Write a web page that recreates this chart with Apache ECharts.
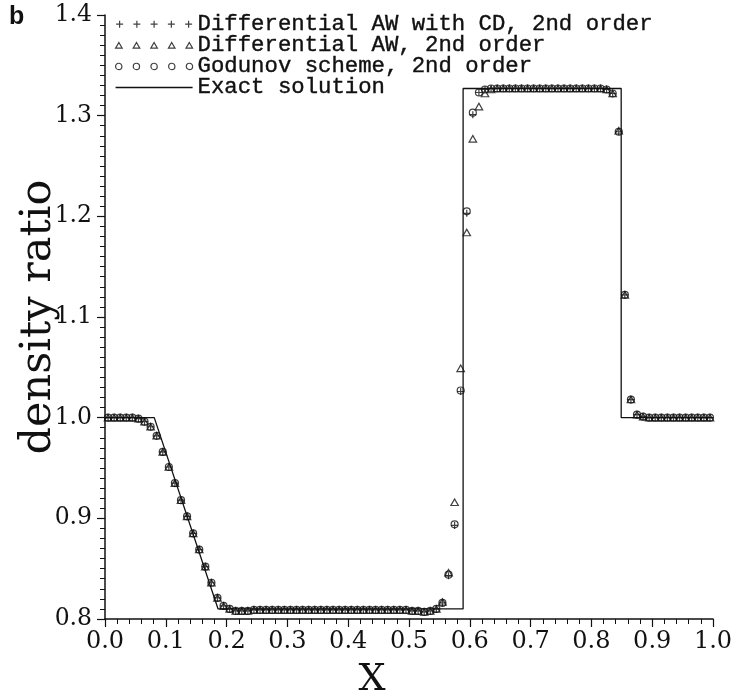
<!DOCTYPE html>
<html>
<head>
<meta charset="utf-8">
<script src="https://cdn.jsdelivr.net/npm/echarts@6/dist/echarts.min.js"></script>
<style>
  html, body { margin: 0; padding: 0; background: #fff; }
  #chart { width: 732px; height: 691px; }
</style>
</head>
<body>
<div id="chart"></div>
<script>
// Cell-centre positions of the numerical solutions
const cellX = [
  0.005, 0.015, 0.025, 0.035, 0.045, 0.055, 0.065, 0.075, 0.085, 0.095,
  0.105, 0.115, 0.125, 0.135, 0.145, 0.155, 0.165, 0.175, 0.185, 0.195,
  0.205, 0.215, 0.225, 0.235, 0.245, 0.255, 0.265, 0.275, 0.285, 0.295,
  0.305, 0.315, 0.325, 0.335, 0.345, 0.355, 0.365, 0.375, 0.385, 0.395,
  0.405, 0.415, 0.425, 0.435, 0.445, 0.455, 0.465, 0.475, 0.485, 0.495,
  0.505, 0.515, 0.525, 0.535, 0.545, 0.555, 0.565, 0.575, 0.585, 0.595,
  0.605, 0.615, 0.625, 0.635, 0.645, 0.655, 0.665, 0.675, 0.685, 0.695,
  0.705, 0.715, 0.725, 0.735, 0.745, 0.755, 0.765, 0.775, 0.785, 0.795,
  0.805, 0.815, 0.825, 0.835, 0.845, 0.855, 0.865, 0.875, 0.885, 0.895,
  0.905, 0.915, 0.925, 0.935, 0.945, 0.955, 0.965, 0.975, 0.985, 0.995
];

// Differential AW with CD, 2nd order
const awCdDensity = [
  1.000, 1.000, 1.000, 1.000, 1.000, 0.999, 0.996, 0.991, 0.982, 0.966,
  0.951, 0.935, 0.918, 0.902, 0.885, 0.869, 0.852, 0.836, 0.821, 0.813,
  0.810, 0.808, 0.808, 0.808, 0.809, 0.809, 0.809, 0.809, 0.809, 0.809,
  0.809, 0.809, 0.809, 0.809, 0.809, 0.809, 0.809, 0.809, 0.809, 0.809,
  0.809, 0.809, 0.809, 0.809, 0.809, 0.809, 0.809, 0.809, 0.809, 0.809,
  0.808, 0.808, 0.807, 0.808, 0.810, 0.816, 0.843, 0.893, 1.026, 1.203,
  1.301, 1.323, 1.326, 1.327, 1.327, 1.327, 1.327, 1.327, 1.327, 1.327,
  1.327, 1.327, 1.327, 1.327, 1.327, 1.327, 1.327, 1.327, 1.327, 1.327,
  1.327, 1.327, 1.326, 1.322, 1.284, 1.122, 1.018, 1.003, 1.001, 1.000,
  1.000, 1.000, 1.000, 1.000, 1.000, 1.000, 1.000, 1.000, 1.000, 1.000
];

// Differential AW, 2nd order
const awDensity = [
  1.000, 1.000, 1.000, 1.000, 1.000, 0.999, 0.996, 0.991, 0.982, 0.966,
  0.951, 0.935, 0.918, 0.902, 0.885, 0.869, 0.852, 0.836, 0.821, 0.813,
  0.810, 0.808, 0.808, 0.808, 0.809, 0.809, 0.809, 0.809, 0.809, 0.809,
  0.809, 0.809, 0.809, 0.809, 0.809, 0.809, 0.809, 0.809, 0.809, 0.809,
  0.809, 0.809, 0.809, 0.809, 0.809, 0.809, 0.809, 0.809, 0.809, 0.809,
  0.808, 0.808, 0.807, 0.808, 0.810, 0.817, 0.846, 0.916, 1.049, 1.184,
  1.277, 1.309, 1.322, 1.326, 1.327, 1.327, 1.327, 1.327, 1.327, 1.327,
  1.327, 1.327, 1.327, 1.327, 1.327, 1.327, 1.327, 1.327, 1.327, 1.327,
  1.327, 1.327, 1.326, 1.322, 1.285, 1.122, 1.018, 1.003, 1.001, 1.000,
  1.000, 1.000, 1.000, 1.000, 1.000, 1.000, 1.000, 1.000, 1.000, 1.000
];

// Godunov scheme, 2nd order
const godunovDensity = [
  1.000, 1.000, 1.000, 1.000, 1.000, 0.999, 0.996, 0.991, 0.982, 0.966,
  0.951, 0.935, 0.918, 0.902, 0.885, 0.869, 0.852, 0.836, 0.821, 0.813,
  0.810, 0.808, 0.808, 0.808, 0.809, 0.809, 0.809, 0.809, 0.809, 0.809,
  0.809, 0.809, 0.809, 0.809, 0.809, 0.809, 0.809, 0.809, 0.809, 0.809,
  0.809, 0.809, 0.809, 0.809, 0.809, 0.809, 0.809, 0.809, 0.809, 0.809,
  0.808, 0.808, 0.807, 0.808, 0.810, 0.816, 0.844, 0.894, 1.027, 1.205,
  1.303, 1.323, 1.326, 1.327, 1.327, 1.327, 1.327, 1.327, 1.327, 1.327,
  1.327, 1.327, 1.327, 1.327, 1.327, 1.327, 1.327, 1.327, 1.327, 1.327,
  1.327, 1.327, 1.326, 1.322, 1.284, 1.122, 1.018, 1.003, 1.001, 1.000,
  1.000, 1.000, 1.000, 1.000, 1.000, 1.000, 1.000, 1.000, 1.000, 1.000
];

// Exact solution: rarefaction head/tail, contact and shock
const exactX = [0.0, 0.081, 0.186, 0.589, 0.589, 0.849, 0.849, 1.0];
const exactDensity = [1.0, 1.0, 0.810, 0.810, 1.327, 1.327, 1.0, 1.0];

const xTicks = ['0.0', '0.1', '0.2', '0.3', '0.4', '0.5', '0.6', '0.7', '0.8', '0.9', '1.0'];
const yTicks = ['0.8', '0.9', '1.0', '1.1', '1.2', '1.3', '1.4'];

const seriesNames = [
  'Differential AW with CD, 2nd order',
  'Differential AW, 2nd order',
  'Godunov scheme, 2nd order',
  'Exact solution'
];

const pair = (xs, ys) => xs.map((x, i) => [x, ys[i]]);

// Legend icons: a row of five small markers, or a plain rule for the line
function rowIcon(kind) {
  let d = '';
  if (kind === 'rule') return 'path://M0,0H76V1.3H0Z';
  for (let k = 0; k < 5; k++) {
    if (kind === 'plus') {
      const c = 3.5 + k * 17.25;
      d += 'M' + (c - 3.5) + ',3.5H' + (c + 3.5) + 'M' + c + ',0V7';
    } else if (kind === 'tri') {
      const c = 3.25 + k * 17.4;
      d += 'M' + c + ',0L' + (c + 3.25) + ',5.6L' + (c - 3.25) + ',5.6Z';
    } else {
      const c = 3.1 + k * 17.45;
      d += 'M' + (c - 3.1) + ',3.1a3.1,3.1 0 1,0 6.2,0a3.1,3.1 0 1,0 -6.2,0';
    }
  }
  return 'path://' + d;
}

const ink = '#111';
const hollow = { color: 'transparent', borderColor: ink, borderWidth: 1.2 };
const serif = 'DejaVu Serif';

const chart = echarts.init(document.getElementById('chart'), null, { renderer: 'canvas' });
chart.setOption({
  animation: false,
  backgroundColor: '#fff',
  title: {
    text: 'b', left: 4, top: 0,
    textStyle: { fontFamily: 'Liberation Sans', fontWeight: 'bold', fontSize: 25, color: ink }
  },
  grid: { left: 105, right: 19, top: 15, bottom: 72, containLabel: false, outerBoundsMode: 'none' },
  legend: {
    orient: 'vertical', left: 110, top: 8,
    itemWidth: 77, itemHeight: 7, itemGap: -1.3,
    textStyle: {
      fontFamily: 'Liberation Mono', fontSize: 22.3, color: ink, lineHeight: 20.8,
      textBorderColor: ink, textBorderWidth: 0.4
    },
    selectedMode: false,
    data: [
      { name: seriesNames[0], icon: rowIcon('plus'), itemStyle: hollow },
      { name: seriesNames[1], icon: rowIcon('tri'), itemStyle: hollow },
      { name: seriesNames[2], icon: rowIcon('circ'), itemStyle: hollow },
      { name: seriesNames[3], icon: rowIcon('rule'), itemStyle: { color: ink, borderWidth: 0 } }
    ]
  },
  xAxis: {
    type: 'value', min: 0, max: 1, interval: 0.1,
    name: 'X', nameLocation: 'middle', nameGap: 42, nameMoveOverlap: false,
    nameTextStyle: { fontFamily: serif, fontSize: 38, color: ink, padding: [0, 74, 0, 0] },
    axisLine: { lineStyle: { color: ink, width: 1.5 } },
    axisTick: { length: 8, lineStyle: { color: ink, width: 1.2 } },
    minorTick: { show: true, splitNumber: 5, length: 5, lineStyle: { color: ink, width: 1 } },
    splitLine: { show: false },
    axisLabel: {
      margin: 11, fontFamily: serif, fontSize: 24, color: ink,
      formatter: v => xTicks[Math.round(v * 10)]
    }
  },
  yAxis: {
    type: 'value', min: 0.8, max: 1.4, interval: 0.1,
    name: 'density ratio', nameLocation: 'middle', nameGap: 45, nameRotate: 90, nameMoveOverlap: false,
    nameTextStyle: { fontFamily: serif, fontSize: 43, color: ink },
    axisLine: { show: true, lineStyle: { color: ink, width: 1.5 } },
    axisTick: { show: true, length: 8, lineStyle: { color: ink, width: 1.2 } },
    minorTick: { show: true, splitNumber: 10, length: 5, lineStyle: { color: ink, width: 1 } },
    splitLine: { show: false },
    axisLabel: {
      margin: 13, fontFamily: serif, fontSize: 23.5, color: ink,
      formatter: v => yTicks[Math.round((v - 0.8) * 10)]
    }
  },
  series: [
    {
      name: seriesNames[0], type: 'scatter', data: pair(cellX, awCdDensity),
      symbol: 'path://M0,5H10M5,0V10', symbolSize: 7, itemStyle: hollow, z: 4
    },
    {
      name: seriesNames[1], type: 'scatter', data: pair(cellX, awDensity),
      symbol: 'triangle', symbolSize: [7.5, 6.5], itemStyle: hollow, z: 3
    },
    {
      name: seriesNames[2], type: 'scatter', data: pair(cellX, godunovDensity),
      symbol: 'circle', symbolSize: 7, itemStyle: hollow, z: 3
    },
    {
      name: seriesNames[3], type: 'line', data: pair(exactX, exactDensity),
      symbol: 'none', lineStyle: { color: ink, width: 1.3 }, itemStyle: { color: ink }, z: 2
    }
  ]
});
</script>
</body>
</html>
